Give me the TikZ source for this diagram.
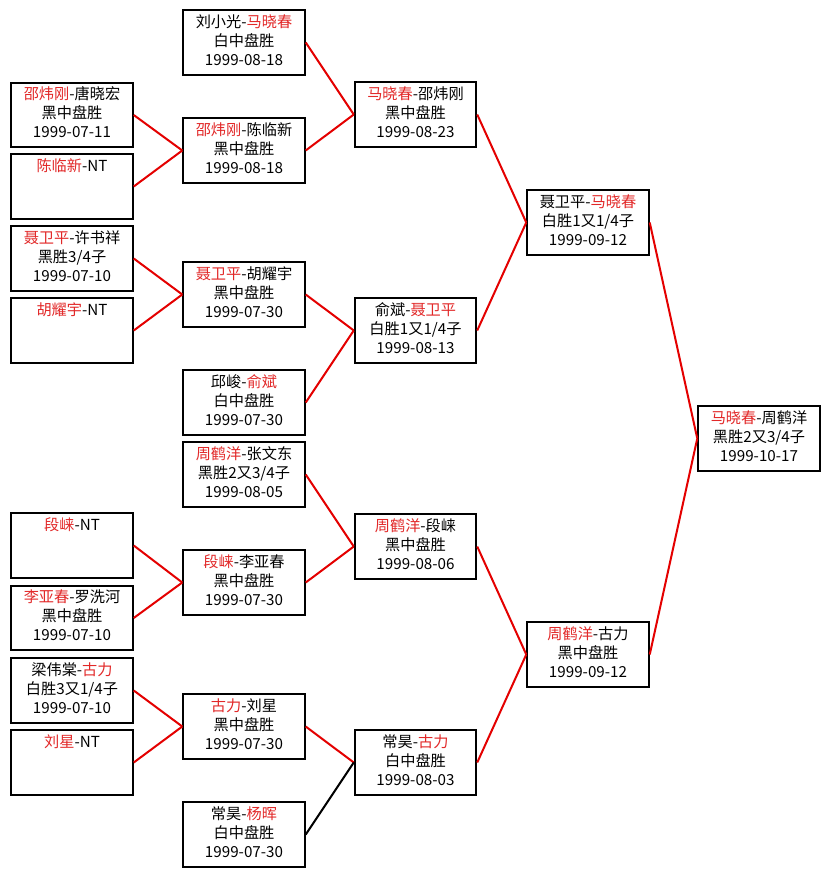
\documentclass[tikz,border=0pt]{standalone}
\usepackage{fontspec}
\newfontfamily\cjk{Noto Sans CJK SC}
\definecolor{winred}{RGB}{228,0,0}
\definecolor{namered}{RGB}{226,40,40}
\newcommand{\rn}[1]{\textcolor{namered}{#1}}
\newcommand{\gl}[3]{\strut #1\\\strut #2\\\strut #3}
\tikzset{
  game/.style={draw=black, line width=1.6pt, fill=white, minimum width=91pt, minimum height=48.5pt,
    inner sep=0pt, align=center, font=\cjk\fontsize{11.4pt}{14.3pt}\selectfont},
  win/.style={draw=winred, line width=1.5pt},
  lose/.style={draw=black, line width=1.5pt}
}
\begin{document}
\begin{tikzpicture}[x=0.75pt, y=-0.75pt]
\useasboundingbox (0,0) rectangle (831,877);
\fill[white] (0,0) rectangle (831,877);
% column 1
\node[game] (a1) at (72,115)   {\gl{\rn{邵炜刚}-唐晓宏}{黑中盘胜}{1999-07-11}};
\node[game] (a2) at (72,186.5) {\gl{\rn{陈临新}-NT}{}{}};
\node[game] (a3) at (72,258.5) {\gl{\rn{聂卫平}-许书祥}{黑胜3/4子}{1999-07-10}};
\node[game] (a4) at (72,330.5) {\gl{\rn{胡耀宇}-NT}{}{}};
\node[game] (a5) at (72,545.5) {\gl{\rn{段崃}-NT}{}{}};
\node[game] (a6) at (72,618)   {\gl{\rn{李亚春}-罗洗河}{黑中盘胜}{1999-07-10}};
\node[game] (a7) at (72,690.5) {\gl{梁伟棠-\rn{古力}}{白胜3又1/4子}{1999-07-10}};
\node[game] (a8) at (72,762.5) {\gl{\rn{刘星}-NT}{}{}};
% column 2
\node[game] (b1) at (244,42.5)  {\gl{刘小光-\rn{马晓春}}{白中盘胜}{1999-08-18}};
\node[game] (b2) at (244,150.5) {\gl{\rn{邵炜刚}-陈临新}{黑中盘胜}{1999-08-18}};
\node[game] (b3) at (244,294.5) {\gl{\rn{聂卫平}-胡耀宇}{黑中盘胜}{1999-07-30}};
\node[game] (b4) at (244,402.5) {\gl{邱峻-\rn{俞斌}}{白中盘胜}{1999-07-30}};
\node[game] (b5) at (244,474.5) {\gl{\rn{周鹤洋}-张文东}{黑胜2又3/4子}{1999-08-05}};
\node[game] (b6) at (244,582.5) {\gl{\rn{段崃}-李亚春}{黑中盘胜}{1999-07-30}};
\node[game] (b7) at (244,726.5) {\gl{\rn{古力}-刘星}{黑中盘胜}{1999-07-30}};
\node[game] (b8) at (244,834.5) {\gl{常昊-\rn{杨晖}}{白中盘胜}{1999-07-30}};
% column 3
\node[game] (c1) at (415.5,114.5) {\gl{\rn{马晓春}-邵炜刚}{黑中盘胜}{1999-08-23}};
\node[game] (c2) at (415.5,330.5) {\gl{俞斌-\rn{聂卫平}}{白胜1又1/4子}{1999-08-13}};
\node[game] (c3) at (415.5,546.5) {\gl{\rn{周鹤洋}-段崃}{黑中盘胜}{1999-08-06}};
\node[game] (c4) at (415.5,762.5) {\gl{常昊-\rn{古力}}{白中盘胜}{1999-08-03}};
% column 4
\node[game] (d1) at (588,222.5) {\gl{聂卫平-\rn{马晓春}}{白胜1又1/4子}{1999-09-12}};
\node[game] (d2) at (588,654.5) {\gl{\rn{周鹤洋}-古力}{黑中盘胜}{1999-09-12}};
% final
\node[game] (e) at (759,438.5) {\gl{\rn{马晓春}-周鹤洋}{黑胜2又3/4子}{1999-10-17}};
% connectors
\draw[win] (a1.east) -- (b2.west);
\draw[win] (a2.east) -- (b2.west);
\draw[win] (a3.east) -- (b3.west);
\draw[win] (a4.east) -- (b3.west);
\draw[win] (a5.east) -- (b6.west);
\draw[win] (a6.east) -- (b6.west);
\draw[win] (a7.east) -- (b7.west);
\draw[win] (a8.east) -- (b7.west);
\draw[win] (b1.east) -- (c1.west);
\draw[win] (b2.east) -- (c1.west);
\draw[win] (b3.east) -- (c2.west);
\draw[win] (b4.east) -- (c2.west);
\draw[win] (b5.east) -- (c3.west);
\draw[win] (b6.east) -- (c3.west);
\draw[win] (b7.east) -- (c4.west);
\draw[lose] (b8.east) -- (c4.west);
\draw[win] (c1.east) -- (d1.west);
\draw[win] (c2.east) -- (d1.west);
\draw[win] (c3.east) -- (d2.west);
\draw[win] (c4.east) -- (d2.west);
\draw[win] (d1.east) -- (e.west);
\draw[win] (d2.east) -- (e.west);
\end{tikzpicture}
\end{document}
